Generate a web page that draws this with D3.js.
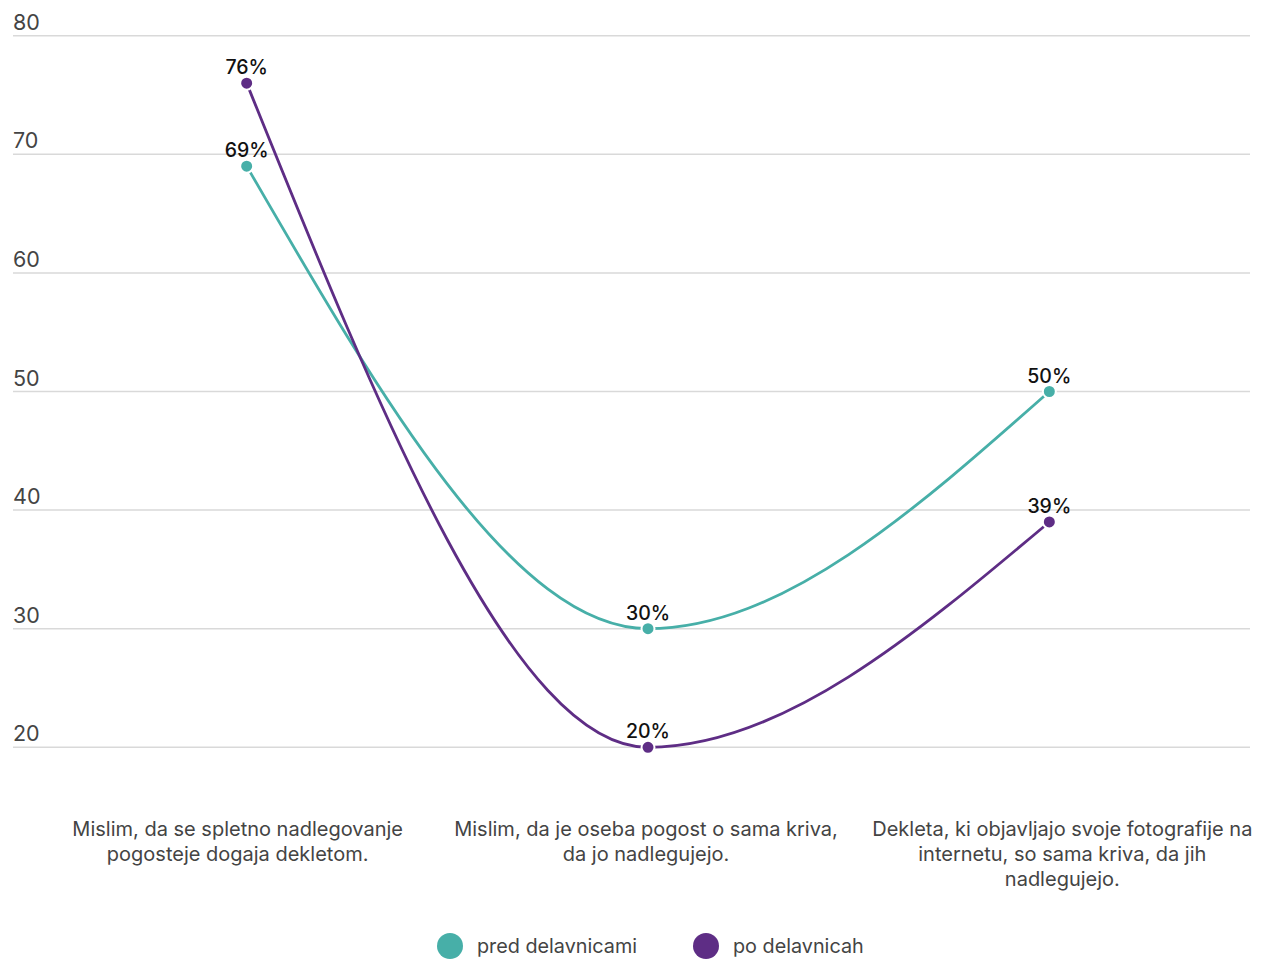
<!DOCTYPE html>
<html><head><meta charset="utf-8">
<script src="https://cdn.jsdelivr.net/npm/d3@7"></script>
<style>body{margin:0;background:#fff}svg{display:block}text{font-family:Inter,Lato,sans-serif}</style>
</head><body><svg id="c" width="1262" height="960"></svg>
<script>
const categories = [
  "Mislim, da se spletno nadlegovanje pogosteje dogaja dekletom.",
  "Mislim, da je oseba pogost o sama kriva, da jo nadlegujejo.",
  "Dekleta, ki objavljajo svoje fotografije na internetu, so sama kriva, da jih nadlegujejo."
];
const categoryLines = [
  ["Mislim, da se spletno nadlegovanje", "pogosteje dogaja dekletom."],
  ["Mislim, da je oseba pogost o sama kriva,", "da jo nadlegujejo."],
  ["Dekleta, ki objavljajo svoje fotografije na", "internetu, so sama kriva, da jih", "nadlegujejo."]
];
const seriesNames = ["pred delavnicami", "po delavnicah"];
const predValues = [69, 30, 50];
const poValues = [76, 20, 39];
const yTicks = [20, 30, 40, 50, 60, 70, 80];
const colors = ["#47AFA8", "#5E2D85"];

const svg = d3.select("#c");
const x = d3.scalePoint().domain(d3.range(categories.length)).range([46, 1250]).padding(0.5);
const y = d3.scaleLinear().domain([20, 80]).range([747.3, 35.7]);

const g = svg.append("g");
g.selectAll("line.grid").data(yTicks).join("line")
  .attr("x1", 13).attr("x2", 1250)
  .attr("y1", d => y(d)).attr("y2", d => y(d))
  .attr("stroke", "#d9d9d9").attr("stroke-width", 1.5);
g.selectAll("text.yl").data(yTicks).join("text")
  .attr("x", 13).attr("y", d => y(d) - 6)
  .attr("font-size", 21.5).attr("fill", "#444")
  .text(d => d);

// small label nudges (layout only)
const labelNudge = [-9, -2, 13];
categoryLines.forEach((lines, i) => {
  const t = svg.append("text").attr("text-anchor", "middle")
    .attr("font-size", 20).attr("fill", "#444");
  lines.forEach((l, j) => t.append("tspan").attr("x", x(i) + labelNudge[i]).attr("y", 836 + j * 25).text(l));
});

const series = [predValues, poValues];
const line = d3.line().x((d, i) => x(i)).y(d => y(d)).curve(d3.curveMonotoneX);
series.forEach((vals, s) => {
  svg.append("path").attr("d", line(vals)).attr("fill", "none")
    .attr("stroke", colors[s]).attr("stroke-width", 2.8);
});
series.forEach((vals, s) => {
  svg.selectAll(null).data(vals).join("circle")
    .attr("cx", (d, i) => x(i)).attr("cy", d => y(d)).attr("r", 6.5)
    .attr("fill", colors[s]).attr("stroke", "#fff").attr("stroke-width", 2);
  svg.selectAll(null).data(vals).join("text")
    .attr("x", (d, i) => x(i)).attr("y", d => y(d) - 9)
    .attr("text-anchor", "middle").attr("font-size", 19.5).attr("font-weight", 500).attr("fill", "#111")
    .text(d => d + "%");
});

const legX = [450, 706];
seriesNames.forEach((n, s) => {
  svg.append("circle").attr("cx", legX[s]).attr("cy", 946).attr("r", 13).attr("fill", colors[s]);
  svg.append("text").attr("x", legX[s] + 27).attr("y", 953).attr("font-size", 19.8).attr("fill", "#444").text(n);
});
</script></body></html>
